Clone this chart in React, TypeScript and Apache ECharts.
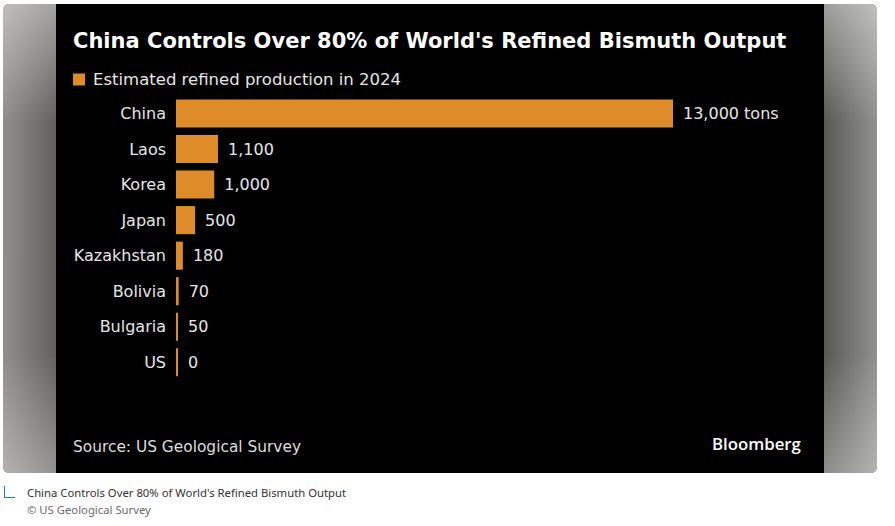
import React, { useEffect, useRef } from "react";
import * as echarts from "echarts";

const categories = ["China", "Laos", "Korea", "Japan", "Kazakhstan", "Bolivia", "Bulgaria", "US"];
const production = [13000, 1100, 1000, 500, 180, 70, 50, 0];
const seriesName = "Estimated refined production in 2024";
const titleText = "China Controls Over 80% of World's Refined Bismuth Output";
const sourceText = "Source: US Geological Survey";
const captionText = "China Controls Over 80% of World's Refined Bismuth Output";
const creditText = "© US Geological Survey";

const BAR = "#de8b2a";
const FONT = "'DejaVu Sans', sans-serif";

export default function App() {
  const ref = useRef<HTMLDivElement>(null);
  useEffect(() => {
    document.body.style.margin = "0";
    const chart = echarts.init(ref.current!, null, { renderer: "svg" });
    const vOverlay = new echarts.graphic.LinearGradient(0, 0, 0, 1, [
      { offset: 0, color: "rgba(255,255,255,0.45)" },
      { offset: 0.25, color: "rgba(255,255,255,0.05)" },
      { offset: 0.75, color: "rgba(255,255,255,0.05)" },
      { offset: 1, color: "rgba(255,255,255,0.35)" },
    ]);
    chart.setOption({
      animation: false,
      backgroundColor: "#ffffff",
      graphic: [
        { type: "rect", z: -10, shape: { x: 3, y: 4, width: 874, height: 469, r: 6 }, style: { fill: "#777" } },
        {
          type: "rect", z: -9, shape: { x: 3, y: 4, width: 54, height: 469, r: [6, 0, 0, 6] },
          style: { fill: new echarts.graphic.LinearGradient(0, 0, 1, 0, [{ offset: 0, color: "#8b8987" }, { offset: 1, color: "#5a5856" }]) },
        },
        { type: "rect", z: -8, shape: { x: 3, y: 4, width: 54, height: 469, r: [6, 0, 0, 6] }, style: { fill: vOverlay } },
        {
          type: "rect", z: -9, shape: { x: 823, y: 4, width: 54, height: 469, r: [0, 6, 6, 0] },
          style: { fill: new echarts.graphic.LinearGradient(0, 0, 1, 0, [{ offset: 0, color: "#4e4e4c" }, { offset: 1, color: "#8c8c8a" }]) },
        },
        { type: "rect", z: -8, shape: { x: 823, y: 4, width: 54, height: 469, r: [0, 6, 6, 0] }, style: { fill: vOverlay } },
        { type: "rect", z: -7, shape: { x: 56, y: 4, width: 768, height: 469 }, style: { fill: "#000000" } },
        {
          type: "text", left: 73, top: 30,
          style: { text: titleText, fill: "#ffffff", font: `bold 21px ${FONT}` },
        },
        {
          type: "text", left: 73, top: 439,
          style: { text: sourceText, fill: "#dedede", font: `15.4px ${FONT}` },
        },
        {
          type: "text", left: 712, top: 435,
          style: { text: "Bloomberg", fill: "#ffffff", font: `600 16.8px 'Open Sans', sans-serif` },
        },
        { type: "line", shape: { x1: 4.5, y1: 486, x2: 4.5, y2: 497.5 }, style: { stroke: "#1a73e8", lineWidth: 1 } },
        { type: "line", shape: { x1: 4, y1: 497.5, x2: 15, y2: 497.5 }, style: { stroke: "#1a73e8", lineWidth: 1 } },
        {
          type: "text", left: 27, top: 487,
          style: { text: captionText, fill: "#333333", font: `11.3px 'Noto Sans', sans-serif` },
        },
        {
          type: "text", left: 27, top: 504,
          style: { text: creditText, fill: "#6b6b6b", font: `11.3px 'Noto Sans', sans-serif` },
        },
      ],
      legend: {
        left: 68, top: 66, itemWidth: 12, itemHeight: 12, icon: "rect", itemGap: 8,
        textStyle: { color: "#e6e6e6", fontSize: 16.5, fontFamily: FONT, padding: [0, 0, 0, 3] },
        data: [seriesName],
      },
      grid: { left: 176, right: 222, top: 95.7, bottom: 145.9, containLabel: false },
      xAxis: { type: "value", min: 0, max: 13000, show: false },
      yAxis: {
        type: "category", data: categories, inverse: true,
        axisLine: { show: false }, axisTick: { show: false },
        axisLabel: { color: "#e6e6e6", fontSize: 16, fontFamily: FONT, margin: 10 },
      },
      series: [
        {
          name: seriesName, type: "bar", data: production, barCategoryGap: "21%",
          barMinHeight: 2,
          itemStyle: { color: BAR },
          label: {
            show: true, position: "right", distance: 10, color: "#e6e6e6", fontSize: 16, fontFamily: FONT,
            formatter: (p: any) => {
              const s = Number(p.value).toLocaleString("en-US");
              return p.dataIndex === 0 ? `${s} tons` : s;
            },
          },
        },
      ],
    });
    return () => chart.dispose();
  }, []);
  return <div ref={ref} style={{ position: "absolute", left: 0, top: 0, width: 895, height: 526 }} />;
}
